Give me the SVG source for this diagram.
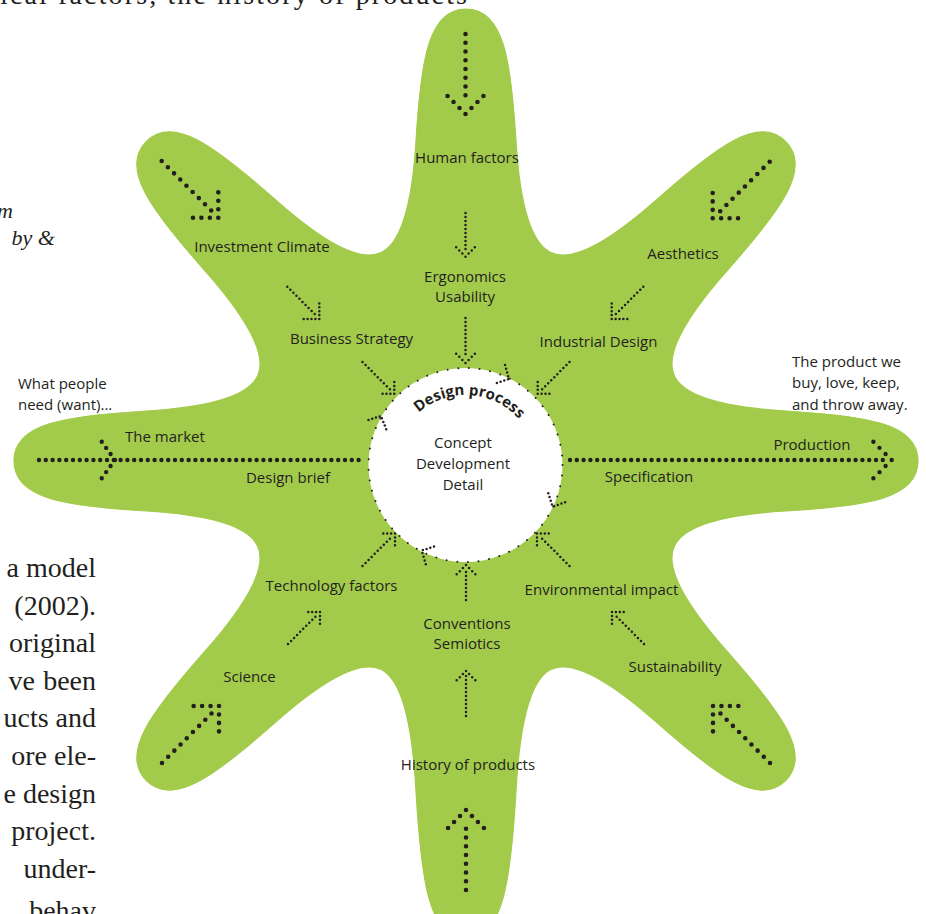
<svg xmlns="http://www.w3.org/2000/svg" xmlns:xlink="http://www.w3.org/1999/xlink" width="926" height="914" viewBox="0 0 926 914">
<defs>
<style>
.d{fill:none;stroke:#231f20;stroke-linecap:round}
.big{stroke-width:4.6;stroke-dasharray:0 8.75}
.bighead{stroke-width:4.6;stroke-dasharray:0 8.45}
.hl{stroke-width:4.4;stroke-dasharray:0 6.8}
.sm{stroke-width:2.5;stroke-dasharray:0 4.3}
.smh{stroke-width:2.5;stroke-dasharray:0 3.9}
.ring{fill:#fff;stroke:#231f20;stroke-width:2;stroke-linecap:round;stroke-dasharray:0 10.693}
.lbl{font-family:"Open Sans","Noto Sans","Liberation Sans",sans-serif;font-size:15px;fill:#231f20;text-anchor:middle}
.lft{text-anchor:start}
.body{font-family:"Liberation Serif","DejaVu Serif",serif;font-size:28px;fill:#231f20;text-anchor:end}
.ital{font-family:"Liberation Serif","DejaVu Serif",serif;font-size:22px;font-style:italic;fill:#231f20;text-anchor:end}
.dp{font-family:"Open Sans","Noto Sans","Liberation Sans",sans-serif;font-size:15px;font-weight:bold;fill:#231f20}
#star use{fill:#a3cb4b;stroke:#a3cb4b;stroke-width:1.2}
</style>
<path id="arm" d="M0,0 L208,-86 C217.6,-62.9 265,-53.3 320,-50 C400,-45 452,-38 452,0 C452,38 400,45 320,50 C265,53.3 217.6,62.9 208,86 Z"/>
<path id="armLong" d="M0,0 L208,-86 C217.6,-62.9 270,-53.3 330,-50 C415,-45 478,-38 478,0 C478,38 415,45 330,50 C270,53.3 217.6,62.9 208,86 Z"/>
<path id="dparc" d="M394.5,466 A71,71 0 0 1 536.5,466"/>
</defs>

<g id="page-text">
<text class="body" x="0" y="4" style="text-anchor:start" textLength="467" lengthAdjust="spacing">ical factors, the history of products</text>
<text class="ital" x="13" y="218">m</text>
<text class="ital" x="55" y="245">by &amp;</text>
<text class="body" x="96" y="577">a model</text>
<text class="body" x="96" y="614.6">(2002).</text>
<text class="body" x="96" y="652.2">original</text>
<text class="body" x="35" y="689.8">ve</text>
<text class="body" x="96" y="689.8">been</text>
<text class="body" x="96" y="727.4">ucts and</text>
<text class="body" x="96" y="765">ore ele-</text>
<text class="body" x="96" y="802.6">e design</text>
<text class="body" x="96" y="840.2">project.</text>
<text class="body" x="96" y="877.8">under-</text>
<text class="body" x="96" y="920">behav</text>
</g>

<g id="star">
<use href="#arm" transform="translate(466,461) rotate(0)"/>
<use href="#arm" transform="translate(466,461) rotate(45)"/>
<use href="#armLong" transform="translate(466,461) rotate(90)"/>
<use href="#arm" transform="translate(466,461) rotate(135)"/>
<use href="#arm" transform="translate(466,461) rotate(180)"/>
<use href="#arm" transform="translate(466,461) rotate(225)"/>
<use href="#arm" transform="translate(466,461) rotate(270)"/>
<use href="#arm" transform="translate(466,461) rotate(315)"/>
</g>

<g id="design-process">
<circle class="ring" cx="465.5" cy="465" r="97"/>
<text class="dp"><textPath href="#dparc" startOffset="52%" text-anchor="middle">Design process</textPath></text>
<text class="lbl" x="463" y="448">Concept</text>
<text class="lbl" x="463" y="469">Development</text>
<text class="lbl" x="463" y="490">Detail</text>
</g>

<g id="connectors">
<path class="d big" d="M465.5,34 L465.5,104"/>
<path class="d bighead" d="M465.5,114 L447.5,96 M465.5,114 L483.5,96"/>
<path class="d big" d="M466,890 L466,820"/>
<path class="d bighead" d="M466,810 L448,828 M466,810 L484,828"/>
<path class="d big" d="M161.7,161 L212,211.3"/>
<path class="d bighead" d="M218.3,217.7 L218.3,191.5 M218.3,217.7 L192.5,217.7"/>
<path class="d big" d="M769.7,161.7 L719.4,212"/>
<path class="d bighead" d="M712.7,218.3 L712.7,192.5 M712.7,218.3 L738.5,218.3"/>
<path class="d big" d="M162,763 L212.3,712.7"/>
<path class="d bighead" d="M219,706 L193,706 M219,706 L219,732"/>
<path class="d big" d="M770,763 L719.7,712.7"/>
<path class="d bighead" d="M713,706 L739,706 M713,706 L713,732"/>
<path class="d hl" d="M39,460 L364,460"/>
<path class="d hl" style="stroke-dasharray:0 7.5" d="M115,460 L101.5,441.5 M115,460 L101.5,478.5"/>
<path class="d hl" d="M570,460 L889,460"/>
<path class="d hl" style="stroke-dasharray:0 8.6" d="M891.7,460 L873.3,441.7 M891.7,460 L873.3,478.3"/>
<path class="d sm" style="stroke-dasharray:0 4" d="M465.5,213 L465.5,253"/>
<path class="d smh" style="stroke-dasharray:0 4.4" d="M465.5,256.7 L456,247.2 M465.5,256.7 L475,247.2"/>
<path class="d sm" style="stroke-dasharray:0 4" d="M465.5,318 L465.5,358"/>
<path class="d smh" style="stroke-dasharray:0 4.4" d="M465.5,363 L456,353.5 M465.5,363 L475,353.5"/>
<path class="d sm" style="stroke-dasharray:0 4" d="M466,600 L466,569"/>
<path class="d smh" style="stroke-dasharray:0 4.4" d="M466,565 L456.5,574.5 M466,565 L475.5,574.5"/>
<path class="d sm" style="stroke-dasharray:0 4" d="M466,716 L466,675"/>
<path class="d smh" style="stroke-dasharray:0 4.4" d="M466,671 L456.5,680.5 M466,671 L475.5,680.5"/>
<path class="d sm" d="M287.3,286.7 L316,315.4"/>
<path class="d smh" d="M319.3,319 L319.3,303.2 M319.3,319 L303.5,319"/>
<path class="d sm" d="M362.5,362 L391.5,391"/>
<path class="d smh" d="M394.3,393.7 L394.3,378.5 M394.3,393.7 L379,393.7"/>
<path class="d sm" d="M643.3,286.7 L615,315"/>
<path class="d smh" d="M611.7,319 L611.7,303.2 M611.7,319 L627.5,319"/>
<path class="d sm" d="M569.5,362 L540.5,391"/>
<path class="d smh" d="M537.7,393.7 L537.7,378.5 M537.7,393.7 L553,393.7"/>
<path class="d sm" d="M362.5,566 L392,536.5"/>
<path class="d smh" d="M395,533.5 L379.5,533.5 M395,533.5 L395,549"/>
<path class="d sm" d="M288,644 L317,615"/>
<path class="d smh" d="M320,612 L304.5,612 M320,612 L320,627.5"/>
<path class="d sm" d="M569.5,566 L540,536.5"/>
<path class="d smh" d="M537,533.5 L552.5,533.5 M537,533.5 L537,549"/>
<path class="d sm" d="M644,644 L615,615"/>
<path class="d smh" d="M612,612 L627.5,612 M612,612 L612,627.5"/>
<path class="d smh" d="M505,365 L509,379 L495,383.5"/>
<path class="d smh" d="M368.5,420 L381,416 L386.5,430"/>
<path class="d smh" d="M434,546.5 L421.7,550.5 L426,565"/>
<path class="d smh" d="M548.3,493.3 L552.7,506.7 L566.7,501.7"/>
</g>

<g id="labels">
<g id="n-human"><text class="lbl" x="467" y="163">Human factors</text></g>
<g id="n-investment"><text class="lbl" x="262" y="252">Investment Climate</text></g>
<g id="n-aesthetics"><text class="lbl" x="683" y="259">Aesthetics</text></g>
<g id="n-ergonomics"><text class="lbl" x="465" y="282">Ergonomics</text><text class="lbl" x="465" y="302">Usability</text></g>
<g id="n-business"><text class="lbl" x="351.5" y="344">Business Strategy</text></g>
<g id="n-industrial"><text class="lbl" x="598.5" y="347">Industrial Design</text></g>
<g id="n-need"><text class="lbl lft" x="18" y="389">What people</text><text class="lbl lft" x="18" y="410">need (want)...</text></g>
<g id="n-product"><text class="lbl lft" x="792" y="367">The product we</text><text class="lbl lft" x="792" y="388">buy, love, keep,</text><text class="lbl lft" x="792" y="410">and throw away.</text></g>
<g id="n-market"><text class="lbl" x="165" y="442">The market</text></g>
<g id="n-brief"><text class="lbl" x="288" y="483">Design brief</text></g>
<g id="n-production"><text class="lbl" x="812" y="450">Production</text></g>
<g id="n-specification"><text class="lbl" x="649" y="482">Specification</text></g>
<g id="n-technology"><text class="lbl" x="331.5" y="591">Technology factors</text></g>
<g id="n-environmental"><text class="lbl" x="601.5" y="595">Environmental impact</text></g>
<g id="n-conventions"><text class="lbl" x="467" y="629">Conventions</text><text class="lbl" x="467" y="649">Semiotics</text></g>
<g id="n-science"><text class="lbl" x="249.5" y="682">Science</text></g>
<g id="n-sustainability"><text class="lbl" x="675" y="672">Sustainability</text></g>
<g id="n-history"><text class="lbl" x="468" y="770">History of products</text></g>
</g>
</svg>
